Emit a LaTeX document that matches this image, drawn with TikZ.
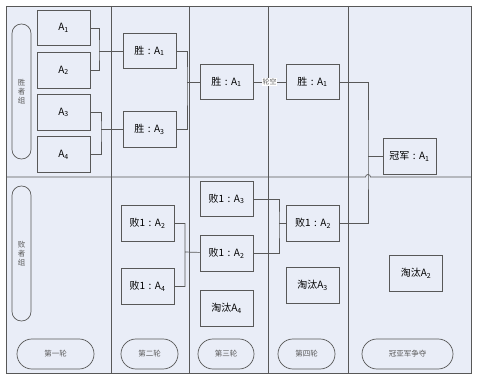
\documentclass[tikz,border=0pt]{standalone}
\usepackage{fontspec}
\setmainfont{Noto Sans CJK SC}
\usepackage{xcolor}
\usepackage{tikz}
\usetikzlibrary{positioning}
\definecolor{panel}{RGB}{233,237,247}
\definecolor{edge}{RGB}{88,88,88}
\newcommand{\bcolon}{\hspace{3.5pt}:\hspace{3.5pt}}

\begin{document}
\begin{tikzpicture}[
  x=1pt, y=-1pt,
  font=\fontsize{10}{11}\selectfont,
  box/.style={draw=edge,line width=0.7pt,minimum width=53pt,minimum height=35.5pt,inner sep=1pt},
  pill/.style={draw=edge,line width=0.7pt,font=\fontsize{7.5}{9}\selectfont,text=black!65,
               align=center,inner sep=0pt},
  note/.style={font=\fontsize{7}{8}\selectfont,text=black!60,fill=white,inner sep=0.6pt},
  ln/.style={edge,line width=0.7pt}
]
\useasboundingbox (0,0) rectangle (478,379);

%% ---- panel and lanes ----------------------------------------------------
\draw[ln,fill=panel] (6,6) rectangle (471,373);
\foreach \x in {111,189,268,348} \draw[ln] (\x,6) -- (\x,373);
\draw[ln] (6,177) -- (365.5,177) arc[start angle=180,end angle=360,radius=2.5] -- (471,177);

\node[pill,minimum width=19pt,minimum height=135pt,rounded corners=9.4pt] (wgrp) at (21.5,91.5)  {胜\\者\\组};
\node[pill,minimum width=19pt,minimum height=135pt,rounded corners=9.4pt] (lgrp) at (21.5,253.5) {败\\者\\组};

\node[pill,minimum width=77pt,minimum height=30pt,rounded corners=14.9pt] (rd1) at (55.5,354)  {第一轮};
\node[pill,minimum width=57pt,minimum height=30pt,rounded corners=14.9pt] (rd2) at (149.5,354) {第二轮};
\node[pill,minimum width=56pt,minimum height=30pt,rounded corners=14.9pt] (rd3) at (226,354)   {第三轮};
\node[pill,minimum width=57pt,minimum height=30pt,rounded corners=14.9pt] (rd4) at (306.5,354) {第四轮};
\node[pill,minimum width=91pt,minimum height=30pt,rounded corners=14.9pt] (rd5) at (407.5,354) {冠亚军争夺};

%% ---- winners bracket ----------------------------------------------------
\node[box]                     (A1) at (63.5,28) {A\textsubscript{1}};
\node[box, below=6pt of A1]    (A2) {A\textsubscript{2}};
\node[box, below=6pt of A2]    (A3) {A\textsubscript{3}};
\node[box, below=6pt of A3]    (A4) {A\textsubscript{4}};

\node[box] (wA1)   at (149.5,51)    {胜\bcolon A\textsubscript{1}};
\node[box] (wA3)   at (149.5,129.5) {胜\bcolon A\textsubscript{3}};
\node[box] (wr3)   at (226.5,82)    {胜\bcolon A\textsubscript{1}};
\node[box] (wr4)   at (312.5,82)    {胜\bcolon A\textsubscript{1}};
\node[box] (champ) at (409.5,156.5) {冠军\bcolon A\textsubscript{1}};

%% ---- losers bracket -----------------------------------------------------
\node[box] (lA2) at (147.5,223.5) {败1\bcolon A\textsubscript{2}};
\node[box] (lA4) at (147.5,286.5) {败1\bcolon A\textsubscript{4}};
\node[box]                      (lr3a) at (226.5,199) {败1\bcolon A\textsubscript{3}};
\node[box, below=18pt of lr3a]  (lr3b) {败1\bcolon A\textsubscript{2}};
\node[box, below=19pt of lr3b]  (out4) {淘汰A\textsubscript{4}};
\node[box] (lr4)  at (313,223.5)   {败1\bcolon A\textsubscript{2}};
\node[box] (out3) at (312.5,285.5) {淘汰A\textsubscript{3}};
\node[box] (out2) at (416,273.5)   {淘汰A\textsubscript{2}};

%% ---- joins: two in, one out ---------------------------------------------
\coordinate (jA12) at (99,51);
\coordinate (jA34) at (101,129.5);
\coordinate (jw)   at (187,82);
\coordinate (jl2)  at (185,252);
\coordinate (jl3)  at (279,223.5);
\coordinate (jfin) at (368,156.5);
\foreach \a/\b/\j/\t in {A1/A2/jA12/wA1, A3/A4/jA34/wA3, wA1/wA3/jw/wr3,
                          lA2/lA4/jl2/lr3b, lr3a/lr3b/jl3/lr4, wr4/lr4/jfin/champ}
  \draw[ln] (\a) -| (\j) |- (\b) (\j) -- (\t);

\draw[ln] (wr3) -- node[note] {轮空} (wr4);
\end{tikzpicture}
\end{document}
